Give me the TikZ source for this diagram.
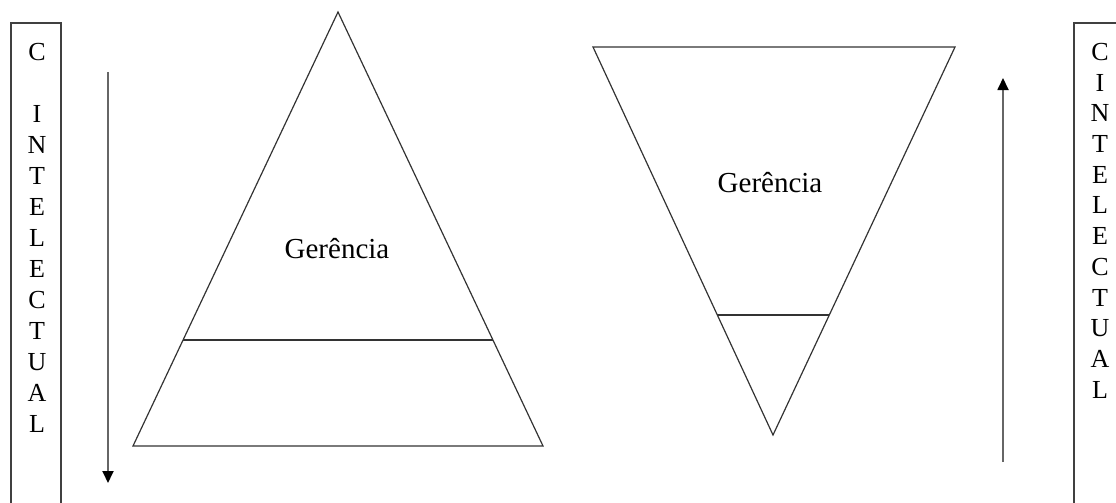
\documentclass[tikz,border=0pt]{standalone}
\usepackage{fontspec}
\setmainfont{Liberation Serif}
\usetikzlibrary{arrows.meta, positioning, calc}

\begin{document}
\begin{tikzpicture}[
        x=1pt, y=-1pt,
        contorno/.style={draw=black!80, line width=1.2pt},
        caixa/.style={draw=black!75, line width=1.8pt},
        seta/.style={draw=black!60, line width=1.8pt, -{Triangle[width=11pt,length=12pt,black]}},
        rotulo/.style={inner sep=0pt, font=\fontsize{29}{34}\selectfont}
    ]
    \useasboundingbox (0,0) rectangle (1116,503);

    \coordinate (topo) at (338,12);
    \coordinate (baseE) at (133,446);
    \coordinate (baseD) at (543,446);
    \draw[contorno] (topo) -- (baseD) -- (baseE) -- cycle;
    \draw[contorno] ($(topo)!0.7558!(baseE)$) -- ($(topo)!0.7558!(baseD)$);
    \node[rotulo] (gerencia) at (337,249) {Gerência};

    \coordinate (vertice) at (773,435);
    \coordinate (topoE) at (593,47);
    \coordinate (topoD) at (955,47);
    \draw[contorno] (vertice) -- (topoD) -- (topoE) -- cycle;
    \draw[contorno] ($(vertice)!0.3093!(topoE)$) -- ($(vertice)!0.3093!(topoD)$);
    \node[rotulo] (gerenciaInv) at (770,183) {Gerência};

    \draw[caixa] (11,23) rectangle (61,520);
    \draw[caixa] (1074,23) rectangle (1140,520);

    \node[
        inner sep=0pt,
        anchor=north,
        align=center,
        font=\fontsize{26}{31}\selectfont
    ] (colunaE) at (37,43) {C\\[31pt]I\\N\\T\\E\\L\\E\\C\\T\\U\\A\\L};
    \node[
        inner sep=0pt,
        anchor=north,
        align=center,
        font=\fontsize{26}{30.7}\selectfont
    ] (colunaD) at (1100,43) {C\\I\\N\\T\\E\\L\\E\\C\\T\\U\\A\\L};

    \coordinate (desceIni) at (108,72);
    \coordinate (desceFim) at (108,483);
    \draw[seta] (desceIni) -- (desceFim);
    \coordinate (sobeIni) at (1003,462);
    \coordinate (sobeFim) at (1003,78);
    \draw[seta] (sobeIni) -- (sobeFim);
\end{tikzpicture}
\end{document}
